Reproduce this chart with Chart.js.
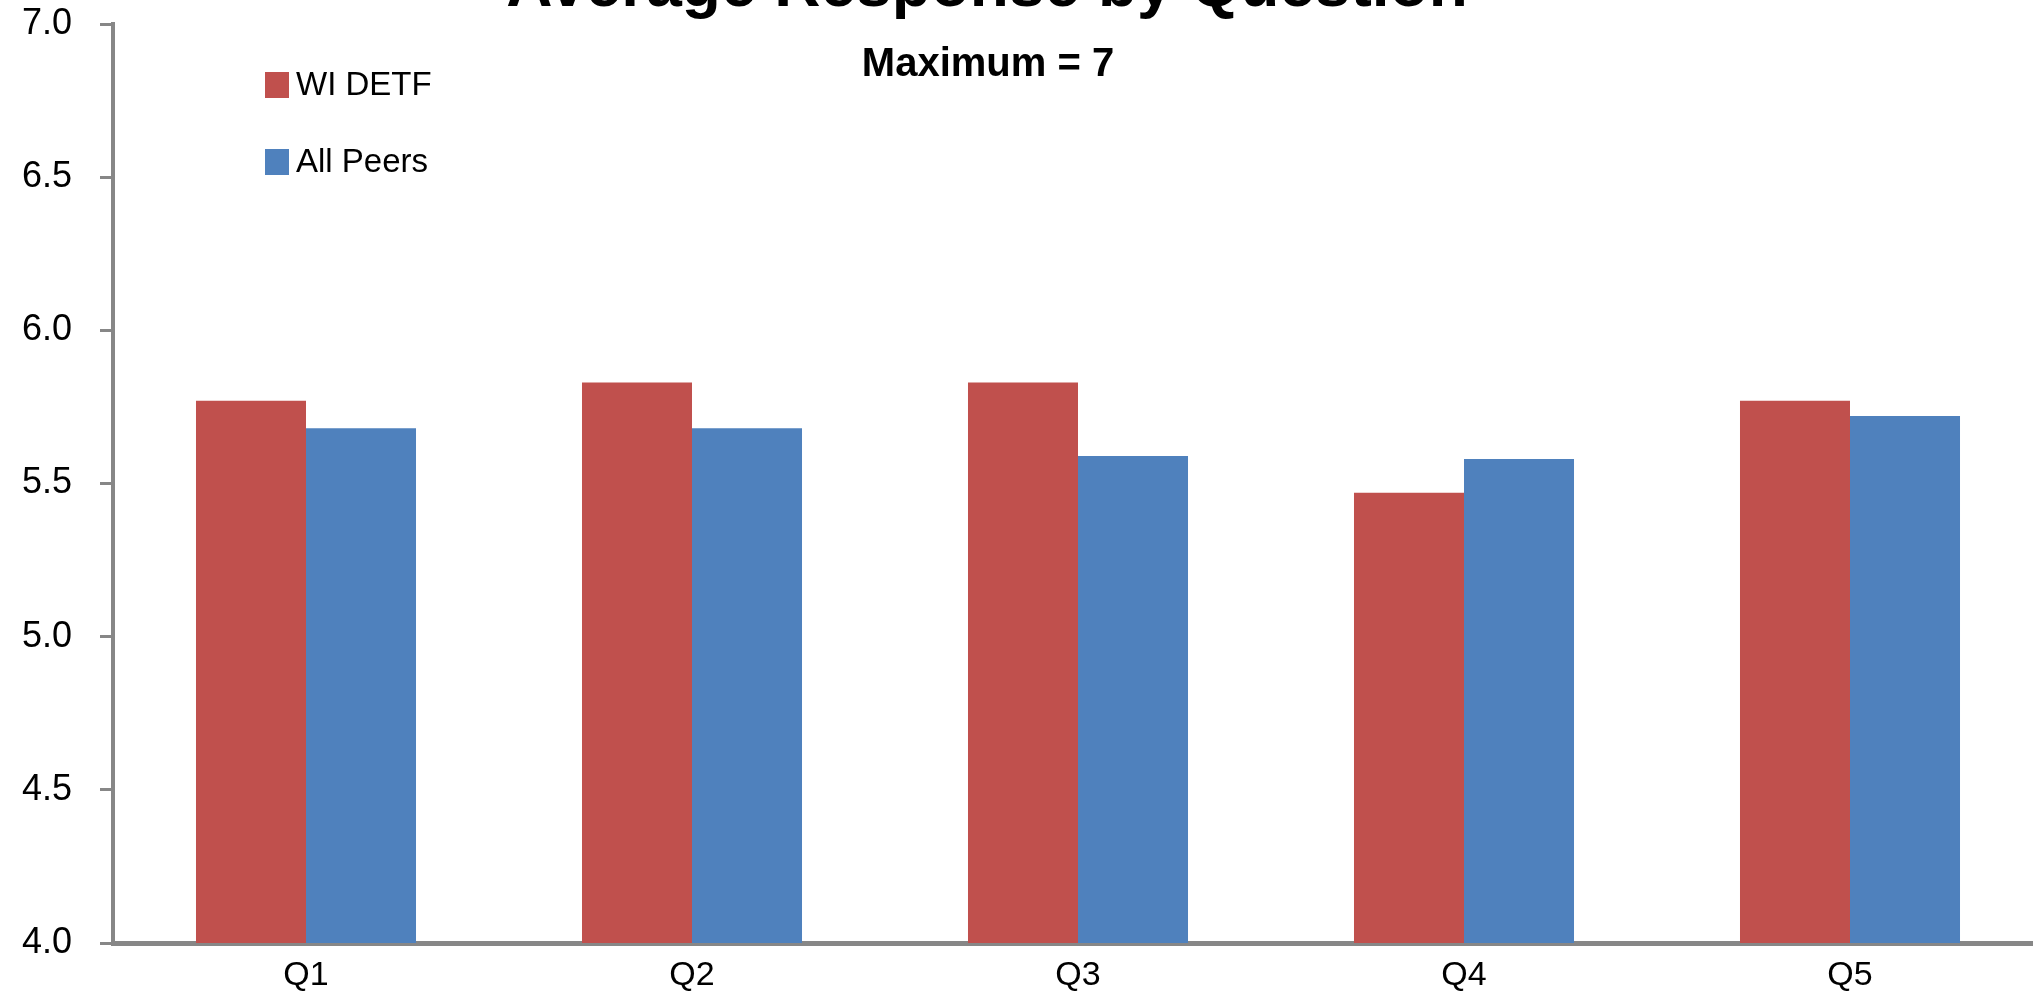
<!DOCTYPE html>
<html>
<head>
<meta charset="utf-8">
<title>Average Response by Question</title>
<script src="https://cdn.jsdelivr.net/npm/chart.js@4.4.1/dist/chart.umd.min.js"></script>
<style>
  html, body { margin: 0; padding: 0; background: #fff; overflow: hidden; }
  #wrap { width: 2043px; height: 997px; }
</style>
</head>
<body>
<div id="wrap"><canvas id="responseChart" width="2043" height="997"></canvas></div>
<script>
// 图表数据
const questions = ['Q1', 'Q2', 'Q3', 'Q4', 'Q5'];
const wiDetf = [5.77, 5.83, 5.83, 5.47, 5.77];
const allPeers = [5.68, 5.68, 5.59, 5.58, 5.72];
const yTicks = [4.0, 4.5, 5.0, 5.5, 6.0, 6.5, 7.0];

const FONT = '"Liberation Sans", Arial, sans-serif';
const AXIS_GRAY = '#878787';

// 标题和副标题（压在绘图区上方）
const headerPlugin = {
    id: 'header',
    afterDraw(chart) {
        const ctx = chart.ctx;
        ctx.save();
        ctx.fillStyle = '#000';
        ctx.textAlign = 'center';
        ctx.textBaseline = 'alphabetic';
        ctx.font = 'bold 64px ' + FONT;
        ctx.fillText('Average Response by Question', 987, 6);
        ctx.font = 'bold 40px ' + FONT;
        ctx.fillText('Maximum = 7', 988, 76);
        ctx.restore();
    }
};

// 图例画在绘图区内部左上角，竖排
const insideLegend = {
    id: 'insideLegend',
    afterDraw(chart) {
        const ctx = chart.ctx;
        ctx.save();
        ctx.font = '33px ' + FONT;
        ctx.textBaseline = 'middle';
        ctx.textAlign = 'left';
        chart.data.datasets.forEach((ds, i) => {
            const cy = 85 + i * 77;
            ctx.fillStyle = ds.backgroundColor;
            ctx.fillRect(265, cy - 13, 24, 26);
            ctx.fillStyle = '#000';
            ctx.fillText(ds.label, 296, cy + 1);
        });
        ctx.restore();
    }
};

new Chart(document.getElementById('responseChart'), {
    type: 'bar',
    data: {
        labels: questions,
        datasets: [
            {
                label: 'WI DETF',
                data: wiDetf,
                backgroundColor: '#C0504D',
                borderWidth: 0
            },
            {
                label: 'All Peers',
                data: allPeers,
                backgroundColor: '#4F81BD',
                borderWidth: 0
            }
        ]
    },
    options: {
        responsive: false,
        animation: false,
        layout: {
            padding: { top: 24, right: 0, bottom: 0, left: 0 }
        },
        datasets: {
            bar: {
                categoryPercentage: 0.57,
                barPercentage: 1.0
            }
        },
        plugins: {
            legend: { display: false },
            title: { display: false },
            tooltip: { enabled: false }
        },
        scales: {
            x: {
                grid: {
                    display: false,
                    drawTicks: false
                },
                border: {
                    display: true,
                    color: AXIS_GRAY,
                    width: 5
                },
                ticks: {
                    color: '#000',
                    padding: 12,
                    font: { family: FONT, size: 34 }
                },
                afterFit(scale) {
                    scale.height = 54;
                    scale.paddingLeft = 0;
                    scale.paddingRight = 0;
                }
            },
            y: {
                min: 4,
                max: 7,
                afterBuildTicks(scale) {
                    scale.ticks = yTicks.map(v => ({ value: v }));
                },
                grid: {
                    drawOnChartArea: false,
                    drawTicks: true,
                    tickLength: 13,
                    tickWidth: 3,
                    tickColor: AXIS_GRAY
                },
                border: {
                    display: true,
                    color: AXIS_GRAY,
                    width: 4
                },
                ticks: {
                    color: '#000',
                    padding: 28,
                    font: { family: FONT, size: 36 },
                    callback: v => Number(v).toFixed(1)
                },
                afterFit(scale) {
                    scale.width = 113;
                    scale.paddingTop = 0;
                    scale.paddingBottom = 0;
                }
            }
        }
    },
    plugins: [headerPlugin, insideLegend]
});
</script>
</body>
</html>
